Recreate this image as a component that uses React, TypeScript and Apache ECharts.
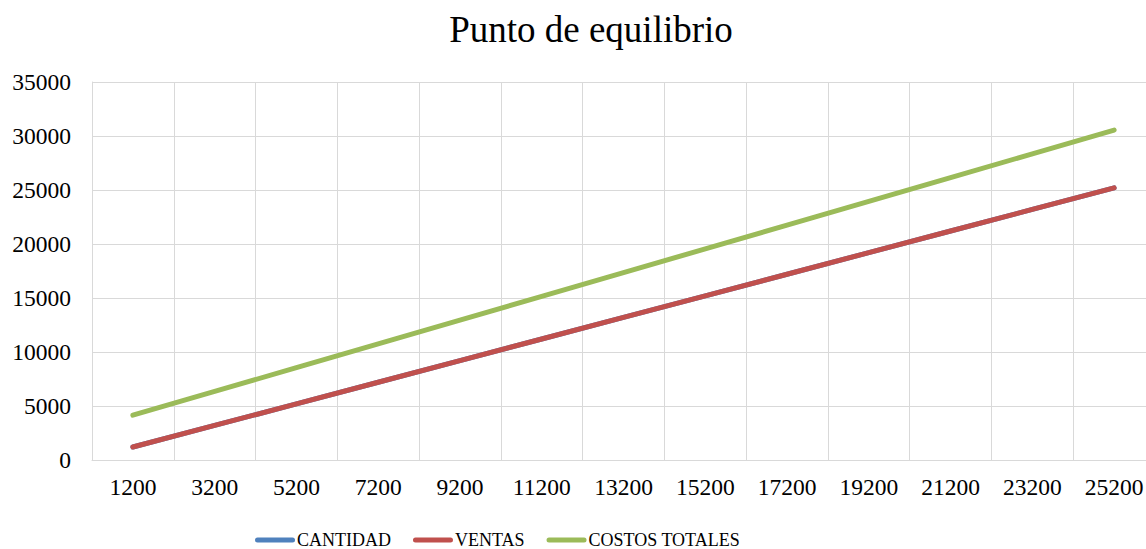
import React, { useEffect, useRef } from "react";
import * as echarts from "echarts";

const categories: string[] = ["1200", "3200", "5200", "7200", "9200", "11200", "13200", "15200", "17200", "19200", "21200", "23200", "25200"];
const cantidad: number[] = [1200, 3200, 5200, 7200, 9200, 11200, 13200, 15200, 17200, 19200, 21200, 23200, 25200];
const ventas: number[] = [1200, 3200, 5200, 7200, 9200, 11200, 13200, 15200, 17200, 19200, 21200, 23200, 25200];
const costosTotales: number[] = [4150, 6350, 8550, 10750, 12950, 15150, 17350, 19550, 21750, 23950, 26150, 28350, 30550];

const FONT = "'Liberation Serif', 'Times New Roman', serif";
const legendIcon = "path://M2.5,0 H37.5 A2.5,2.5 0 0 1 37.5,5 H2.5 A2.5,2.5 0 0 1 2.5,0 Z";

export default function App() {
  const ref = useRef<HTMLDivElement>(null);
  useEffect(() => {
    if (!ref.current) return;
    const chart = echarts.init(ref.current, null, { renderer: "svg" });
    const mk = (name: string, data: number[], color: string) => ({
      name,
      type: "line",
      data,
      showSymbol: false,
      symbol: "none",
      lineStyle: { width: 5, color, cap: "round", join: "round" },
      itemStyle: { color },
    });
    chart.setOption({
      animation: false,
      backgroundColor: "#ffffff",
      title: {
        text: "Punto de equilibrio",
        left: 586,
        top: 6,
        textAlign: "center",
        textStyle: { fontFamily: FONT, fontSize: 37, fontWeight: "normal", color: "#000" },
      },
      legend: {
        left: 250,
        top: 526,
        itemWidth: 40,
        itemHeight: 5,
        itemGap: 22,
        icon: legendIcon,
        textStyle: { fontFamily: FONT, fontSize: 18, color: "#000", padding: [0, 0, 0, -3] },
        data: ["CANTIDAD", "VENTAS", "COSTOS TOTALES"],
      },
      grid: { left: 92, top: 82, width: 1063, height: 378, containLabel: false },
      xAxis: {
        type: "category",
        data: categories,
        boundaryGap: true,
        axisLine: { show: true, lineStyle: { color: "#D9D9D9", width: 1 } },
        axisTick: { show: false },
        axisLabel: { fontFamily: FONT, fontSize: 23.5, color: "#000", margin: 15, interval: 0 },
        splitLine: { show: true, interval: 0, lineStyle: { color: "#D9D9D9", width: 1 } },
      },
      yAxis: {
        type: "value",
        min: 0,
        max: 35000,
        interval: 5000,
        axisLine: { show: true, lineStyle: { color: "#D9D9D9", width: 1 } },
        axisTick: { show: false },
        axisLabel: {
          fontFamily: FONT,
          fontSize: 23.5,
          color: "#000",
          margin: 21,
          formatter: (v: number) => String(v),
        },
        splitLine: { show: true, lineStyle: { color: "#D9D9D9", width: 1 } },
      },
      series: [
        mk("CANTIDAD", cantidad, "#4F81BD"),
        mk("VENTAS", ventas, "#C0504D"),
        mk("COSTOS TOTALES", costosTotales, "#9BBB59"),
      ],
    });
    return () => chart.dispose();
  }, []);
  return (
    <div style={{ position: "absolute", left: 0, top: 0, width: 1146, height: 549, overflow: "hidden" }}>
      <div ref={ref} style={{ position: "absolute", left: 0, top: 0, width: 1170, height: 549 }} />
    </div>
  );
}
